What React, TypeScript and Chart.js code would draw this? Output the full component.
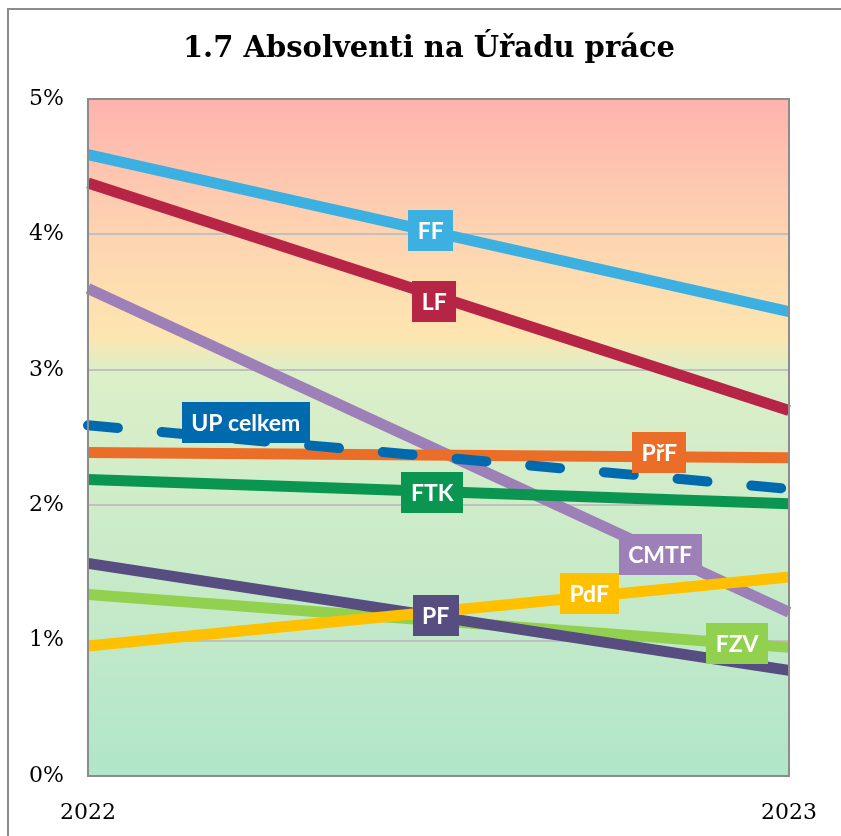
import React, { useEffect, useRef } from "react";
import { Chart, registerables } from "chart.js";

Chart.register(...registerables);

// ---- data ----
const years = ["2022", "2023"];
const seriesNames = ["UP celkem", "PřF", "FTK", "FF", "LF", "PdF", "PF", "FZV", "CMTF"];
const upCelkem = [2.59, 2.12];
const prf = [2.39, 2.35];
const ftk = [2.19, 2.01];
const ff = [4.59, 3.43];
const lf = [4.38, 2.70];
const pdf = [0.96, 1.47];
const pf = [1.57, 0.78];
const fzv = [1.34, 0.95];
const cmtf = [3.60, 1.21];
const seriesValues = [upCelkem, prf, ftk, ff, lf, pdf, pf, fzv, cmtf];
const seriesColors = ["#006AAE", "#EB6E28", "#0A9650", "#3CB1E1", "#B72546", "#FFC000", "#574D80", "#92D050", "#9E80B8"];
const yTicks = [0, 1, 2, 3, 4, 5];
const title = "1.7 Absolventi na Úřadu práce";

// label placement along each line: fraction of x-range and pixel nudge
const labelT = [0.225, 0.815, 0.491, 0.489, 0.494, 0.715, 0.496, 0.926, 0.816];
const labelDy = [-17, -4, 1, -1, 6, -3, -1, 0, 2];

const GRAY = "#8C8C8C";
const SERIF = "'DejaVu Serif', Georgia, serif";

const bgPlugin = {
  id: "bgPlugin",
  beforeDraw(chart: any) {
    const { ctx, chartArea: a } = chart;
    ctx.save();
    ctx.fillStyle = "#fff";
    ctx.fillRect(0, 0, chart.width, chart.height);
    const g = ctx.createLinearGradient(0, a.top, 0, a.bottom);
    g.addColorStop(0, "#FFB3AE");
    g.addColorStop(0.2, "#FDD4B1");
    g.addColorStop(0.35, "#FEE5B0");
    g.addColorStop(0.4, "#DCEFC8");
    g.addColorStop(0.8, "#C1E9C9");
    g.addColorStop(1, "#B0E6C9");
    ctx.fillStyle = g;
    ctx.fillRect(a.left, a.top, a.right - a.left, a.bottom - a.top);
    ctx.restore();
  },
};

const framePlugin = {
  id: "framePlugin",
  afterDatasetsDraw(chart: any) {
    const { ctx, chartArea: a } = chart;
    ctx.save();
    // line labels
    ctx.font = "bold 23px Lato, 'Open Sans', sans-serif";
    ctx.textAlign = "center";
    ctx.textBaseline = "middle";
    chart.data.datasets.forEach((ds: any, i: number) => {
      const meta = chart.getDatasetMeta(i);
      const p0 = meta.data[0];
      const p1 = meta.data[1];
      const t = labelT[i];
      const x = p0.x + t * (p1.x - p0.x);
      const y = p0.y + t * (p1.y - p0.y) + labelDy[i];
      const w = ctx.measureText(ds.label).width + 19;
      const h = 41;
      ctx.fillStyle = ds.borderColor;
      ctx.fillRect(Math.round(x - w / 2), Math.round(y - h / 2), Math.round(w), h);
      ctx.fillStyle = "#FFFFFF";
      ctx.fillText(ds.label, x, y + 1);
    });
    // plot border
    ctx.strokeStyle = GRAY;
    ctx.lineWidth = 2;
    ctx.strokeRect(a.left, a.top, a.right - a.left, a.bottom - a.top);
    ctx.restore();
  },
  afterDraw(chart: any) {
    const { ctx } = chart;
    ctx.save();
    // outer frame (left + top)
    ctx.strokeStyle = GRAY;
    ctx.lineWidth = 2;
    ctx.beginPath();
    ctx.moveTo(8, chart.height);
    ctx.lineTo(8, 9);
    ctx.lineTo(chart.width, 9);
    ctx.stroke();
    // title
    ctx.fillStyle = "#000";
    ctx.font = `bold 29px ${SERIF}`;
    ctx.textAlign = "center";
    ctx.textBaseline = "middle";
    ctx.fillText(title, 429, 49);
    ctx.restore();
  },
};

export default function App() {
  const ref = useRef<HTMLCanvasElement | null>(null);
  useEffect(() => {
    if (!ref.current) return;
    const chart = new Chart(ref.current, {
      type: "line",
      data: {
        labels: years,
        datasets: seriesNames.map((name, i) => ({
          label: name,
          data: seriesValues[i],
          borderColor: seriesColors[i],
          backgroundColor: seriesColors[i],
          borderWidth: i === 0 ? 10 : 11,
          borderDash: i === 0 ? [30, 44] : [],
          borderCapStyle: i === 0 ? "round" : "butt",
          pointRadius: 0,
          fill: false,
          tension: 0,
        })),
      },
      options: {
        responsive: false,
        animation: false,
        events: [],
        layout: { padding: { left: 0, right: 52, top: 99, bottom: 0 } },
        plugins: { legend: { display: false }, tooltip: { enabled: false }, title: { display: false } },
        scales: {
          x: {
            type: "category",
            offset: false,
            grid: { display: false, drawTicks: false },
            border: { display: false },
            ticks: {
              color: "#000",
              font: { family: SERIF, size: 22 },
              padding: 24,
              maxRotation: 0,
              autoSkip: false,
            },
            afterFit: (s: any) => {
              s.height = 60;
            },
          },
          y: {
            min: 0,
            max: 5,
            afterBuildTicks: (s: any) => {
              s.ticks = yTicks.map((v) => ({ value: v }));
            },
            grid: { color: "#C0C0C0", lineWidth: 2, drawTicks: false },
            border: { display: false },
            ticks: {
              color: "#000",
              font: { family: SERIF, size: 22 },
              padding: 24,
              callback: (v: any) => `${v}%`,
            },
            afterFit: (s: any) => {
              s.width = 88;
            },
          },
        },
      },
      plugins: [bgPlugin, framePlugin],
    } as any);
    return () => chart.destroy();
  }, []);
  return (
    <div style={{ position: "fixed", left: 0, top: 0, width: 841, height: 836, background: "#fff" }}>
      <canvas ref={ref} width={841} height={836} style={{ display: "block" }} />
    </div>
  );
}
